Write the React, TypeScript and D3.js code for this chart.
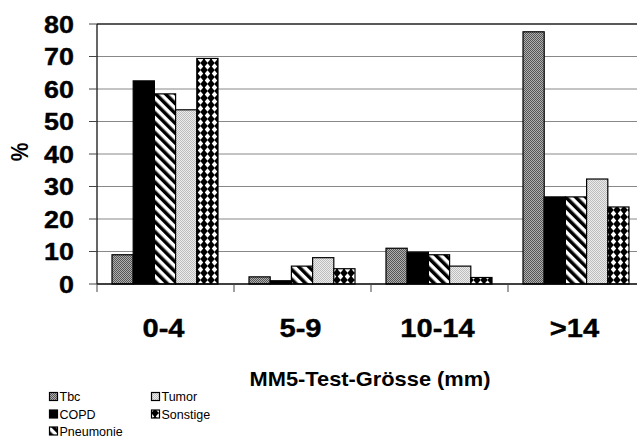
import React, {useEffect, useRef} from "react";
import * as d3 from "d3";

const categories = ["0-4", "5-9", "10-14", ">14"];
const seriesNames = ["Tbc", "COPD", "Pneumonie", "Tumor", "Sonstige"];
const tbc = [9, 2.2, 11, 77.6];
const copd = [62.5, 1, 9.8, 26.8];
const pneumonie = [58.5, 5.5, 9, 26.8];
const tumor = [53.6, 8.1, 5.5, 32.3];
const sonstige = [69.4, 4.7, 2, 23.7];
const yTicks = [0, 10, 20, 30, 40, 50, 60, 70, 80];

const seriesValues = [tbc, copd, pneumonie, tumor, sonstige];
const fills = ["url(#pTbc)", "#000", "url(#pPneu)", "url(#pTumor)", "url(#pSonst)"];

const W = 637, H = 437;

export default function App() {
    const ref = useRef<SVGSVGElement>(null);

    useEffect(() => {
        const svg = d3.select(ref.current);
        svg.selectAll("*").remove();
        svg.attr("width", W).attr("height", H);

        const font = "'Liberation Sans', Arial, sans-serif";

        // patterns
        const defs = svg.append("defs");
        const dither = (id: string, dark: string, light: string) => {
            const p = defs.append("pattern").attr("id", id)
                .attr("width", 2).attr("height", 2).attr("patternUnits", "userSpaceOnUse");
            p.append("rect").attr("width", 2).attr("height", 2).attr("fill", light);
            p.append("rect").attr("width", 1).attr("height", 1).attr("fill", dark);
            p.append("rect").attr("x", 1).attr("y", 1).attr("width", 1).attr("height", 1).attr("fill", dark);
        };
        dither("pTbc", "#555", "#b0b0b0");
        dither("pTumor", "#bdbdbd", "#ececec");

        const pn = defs.append("pattern").attr("id", "pPneu")
            .attr("width", 7).attr("height", 7).attr("patternUnits", "userSpaceOnUse")
            .attr("patternTransform", "rotate(-45)");
        pn.append("rect").attr("width", 7).attr("height", 7).attr("fill", "#fff");
        pn.append("rect").attr("width", 3.5).attr("height", 7).attr("fill", "#000");

        const ps = defs.append("pattern").attr("id", "pSonst")
            .attr("width", 7).attr("height", 7).attr("patternUnits", "userSpaceOnUse")
            .attr("x", 1);
        ps.append("rect").attr("width", 7).attr("height", 7).attr("fill", "#000");
        ps.append("path").attr("d", "M3.5,0.3 L6.2,3.5 L3.5,6.7 L0.8,3.5 Z").attr("fill", "#fff");

        const x0 = d3.scaleBand().domain(categories).range([97, 97 + 137 * 4]).padding(0);
        const x1 = d3.scaleBand().domain(seriesNames).range([15, x0.bandwidth() - 16]).padding(0);
        const y = d3.scaleLinear().domain([0, 80]).range([284, 24]);

        // gridlines
        svg.append("g").selectAll("line").data(yTicks.filter(t => t > 0)).enter().append("line")
            .attr("x1", 97).attr("x2", W)
            .attr("y1", d => y(d)).attr("y2", d => y(d))
            .attr("stroke", d => d === 80 ? "#222" : "#888")
            .attr("stroke-width", d => d === 80 ? 1.3 : 1);

        // bars
        const g = svg.append("g");
        categories.forEach((c, ci) => {
            seriesNames.forEach((s, si) => {
                const v = seriesValues[si][ci];
                g.append("rect")
                    .attr("x", (x0(c) as number) + (x1(s) as number))
                    .attr("y", y(v))
                    .attr("width", x1.bandwidth())
                    .attr("height", y(0) - y(v))
                    .attr("fill", fills[si])
                    .attr("stroke", "#000")
                    .attr("stroke-width", 1.2);
            });
        });

        // axes
        svg.append("line").attr("x1", 97).attr("x2", 97).attr("y1", y(80)).attr("y2", y(0))
            .attr("stroke", "#000").attr("stroke-width", 1.2);
        svg.append("line").attr("x1", 97).attr("x2", W).attr("y1", y(0)).attr("y2", y(0))
            .attr("stroke", "#000").attr("stroke-width", 1.3);
        svg.append("g").selectAll("line").data(yTicks).enter().append("line")
            .attr("x1", 89).attr("x2", 97).attr("y1", d => y(d)).attr("y2", d => y(d))
            .attr("stroke", "#444");
        svg.append("g").selectAll("line").data(categories).enter().append("line")
            .attr("x1", d => x0(d) as number).attr("x2", d => x0(d) as number)
            .attr("y1", y(0)).attr("y2", y(0) + 8)
            .attr("stroke", "#444");

        // wide bold labels, slightly stretched like the scanned original
        svg.append("g").selectAll("text").data(yTicks).enter().append("text")
            .attr("transform", d => `translate(74,${y(d) + 8.5}) scale(1.12,1)`)
            .attr("text-anchor", "end")
            .style("font-family", font).style("font-weight", "bold").style("font-size", "24px")
            .style("stroke", "#000").style("stroke-width", 0.4)
            .text(d => d);

        svg.append("g").selectAll("text").data(categories).enter().append("text")
            .attr("transform", d => `translate(${(x0(d) as number) + x0.bandwidth() / 2 - 2},337) scale(1.12,1)`)
            .attr("text-anchor", "middle")
            .style("font-family", font).style("font-weight", "bold").style("font-size", "26px")
            .style("stroke", "#000").style("stroke-width", 0.4)
            .text(d => d);

        svg.append("text").attr("transform", "translate(28,152) rotate(-90) scale(1,1.1)")
            .attr("text-anchor", "middle")
            .style("font-family", font).style("font-weight", "bold").style("font-size", "21px")
            .text("%");

        svg.append("text").attr("transform", "translate(370,386) scale(1.12,1)")
            .attr("text-anchor", "middle")
            .style("font-family", font).style("font-weight", "bold").style("font-size", "19.5px")
            .text("MM5-Test-Grösse (mm)");

        // legend
        const legendPos = [[49, 401], [49, 418.5], [49, 435.5], [151, 401], [151, 418.5]];
        seriesNames.forEach((s, i) => {
            const [lx, ly] = legendPos[i];
            svg.append("rect").attr("x", lx + 0.5).attr("y", ly - 8.5).attr("width", 8).attr("height", 8)
                .attr("fill", fills[i]).attr("stroke", "#000").attr("stroke-width", 1.2);
            svg.append("text").attr("x", lx + 10.5).attr("y", ly)
                .style("font-family", font).style("font-size", "12.5px")
                .text(s);
        });
    }, []);

    return (
        <svg ref={ref} style={{position: "absolute", left: 0, top: 0, background: "#fff"}}/>
    );
}
